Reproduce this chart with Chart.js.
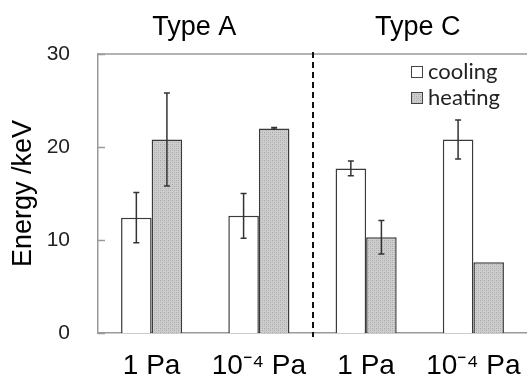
<!DOCTYPE html>
<html>
<head>
<meta charset="utf-8">
<script src="https://cdn.jsdelivr.net/npm/chart.js@4.4.0/dist/chart.umd.min.js"></script>
<style>
    html, body { margin: 0; padding: 0; background: #fff; }
    #wrap { width: 527px; height: 375px; }
</style>
</head>
<body>
<div id="wrap"><canvas id="chart" width="527" height="375"></canvas></div>
<script>
// Chart data
const categories = ['1 Pa', '10\u207B\u2074 Pa', '1 Pa', '10\u207B\u2074 Pa'];
const groupTitles = ['Type A', 'Type C'];
const coolingValues = [12.4, 12.6, 17.7, 20.8];
const coolingErrors = [2.7, 2.4, 0.8, 2.1];
const heatingValues = [20.8, 22.0, 10.3, 7.6];
const heatingErrors = [5.0, 0.1, 1.8, 0];
const yTicks = [0, 10, 20, 30];

// Stippled grey fill for the heating bars
function makeStipple() {
    const c = document.createElement('canvas');
    c.width = 4;
    c.height = 4;
    const g = c.getContext('2d');
    g.fillStyle = '#cdcdcd';
    g.fillRect(0, 0, 4, 4);
    g.fillStyle = '#a9a9a9';
    g.fillRect(0, 0, 1, 1);
    g.fillRect(2, 2, 1, 1);
    g.fillStyle = '#b9b9b9';
    g.fillRect(2, 0, 1, 1);
    g.fillRect(0, 2, 1, 1);
    return g.createPattern(c, 'repeat');
}
const stipple = makeStipple();

const AXIS_GREY = '#9a9a9a';
const SANS = '"Liberation Sans", Arial, sans-serif';

// Draws the frame extras, divider, group titles, legend and error bars
const extrasPlugin = {
    id: 'extras',
    afterDatasetsDraw(chart) {
        const ctx = chart.ctx;
        const area = chart.chartArea;
        const x = chart.scales.x;
        const y = chart.scales.y;
        ctx.save();

        // top frame line
        ctx.strokeStyle = AXIS_GREY;
        ctx.lineWidth = 1.5;
        ctx.beginPath();
        ctx.moveTo(area.left, area.top);
        ctx.lineTo(area.right, area.top);
        ctx.stroke();

        // inward tick marks on y axis
        yTicks.forEach(v => {
            const py = Math.round(y.getPixelForValue(v)) + 0.5;
            ctx.beginPath();
            ctx.moveTo(area.left, py);
            ctx.lineTo(area.left + 7, py);
            ctx.stroke();
        });

        // error bars
        ctx.strokeStyle = '#333';
        ctx.lineWidth = 1.5;
        [[0, coolingValues, coolingErrors], [1, heatingValues, heatingErrors]].forEach(([di, vals, errs]) => {
            const meta = chart.getDatasetMeta(di);
            meta.data.forEach((bar, i) => {
                if (!errs[i]) return;
                const cx = bar.x;
                const top = y.getPixelForValue(vals[i] + errs[i]);
                const bot = y.getPixelForValue(vals[i] - errs[i]);
                ctx.beginPath();
                ctx.moveTo(cx, top);
                ctx.lineTo(cx, bot);
                ctx.moveTo(cx - 3, top);
                ctx.lineTo(cx + 3, top);
                ctx.moveTo(cx - 3, bot);
                ctx.lineTo(cx + 3, bot);
                ctx.stroke();
            });
        });

        // dashed divider between the two types
        const divX = Math.round((x.getPixelForValue(1) + x.getPixelForValue(2)) / 2);
        ctx.strokeStyle = '#111';
        ctx.lineWidth = 2;
        ctx.setLineDash([6, 4]);
        ctx.beginPath();
        ctx.moveTo(divX, area.top - 2);
        ctx.lineTo(divX, area.bottom + 4);
        ctx.stroke();
        ctx.setLineDash([]);

        // group titles
        ctx.fillStyle = '#000';
        ctx.font = '27px ' + SANS;
        ctx.textAlign = 'center';
        ctx.textBaseline = 'alphabetic';
        ctx.fillText(groupTitles[0], (x.getPixelForValue(0) + x.getPixelForValue(1)) / 2 - 11, 35);
        ctx.fillText(groupTitles[1], (x.getPixelForValue(2) + x.getPixelForValue(3)) / 2 - 2, 35);

        // legend inside the plot, top right
        ctx.font = '22px Lato, "Open Sans", sans-serif';
        ctx.textAlign = 'left';
        ctx.textBaseline = 'middle';
        chart.data.datasets.forEach((ds, i) => {
            const ly = area.top + 18 + i * 26;
            ctx.fillStyle = ds.backgroundColor;
            ctx.fillRect(411, ly - 6, 11, 11);
            ctx.strokeStyle = '#444';
            ctx.lineWidth = 1;
            ctx.strokeRect(411.5, ly - 5.5, 11, 11);
            ctx.fillStyle = '#222';
            ctx.fillText(ds.label, 428, ly);
        });

        ctx.restore();
    }
};

new Chart(document.getElementById('chart'), {
    type: 'bar',
    data: {
        labels: categories,
        datasets: [
            {
                label: 'cooling',
                data: coolingValues,
                backgroundColor: '#ffffff',
                borderColor: '#3a3a3a',
                borderWidth: 1.5,
                borderSkipped: 'bottom'
            },
            {
                label: 'heating',
                data: heatingValues,
                backgroundColor: stipple,
                borderColor: '#3a3a3a',
                borderWidth: 1.5,
                borderSkipped: 'bottom'
            }
        ]
    },
    options: {
        responsive: false,
        animation: false,
        devicePixelRatio: 1,
        layout: { padding: { top: 54, right: 0, left: 0, bottom: 0 } },
        datasets: {
            bar: { categoryPercentage: 0.57, barPercentage: 1.0 }
        },
        plugins: {
            legend: { display: false },
            tooltip: { enabled: false }
        },
        scales: {
            x: {
                grid: { display: false, drawTicks: false },
                border: { display: true, color: AXIS_GREY, width: 1.5 },
                ticks: {
                    color: '#000',
                    padding: 16,
                    maxRotation: 0,
                    font: { family: SANS, size: 28 }
                },
                afterFit(scale) {
                    scale.height = 42;
                    scale.paddingLeft = 0;
                    scale.paddingRight = 0;
                }
            },
            y: {
                min: 0,
                max: 30,
                grid: { display: false, drawTicks: false },
                border: { display: true, color: AXIS_GREY, width: 1.5 },
                afterBuildTicks(scale) {
                    scale.ticks = yTicks.map(v => ({ value: v }));
                },
                ticks: {
                    color: '#222',
                    padding: 28,
                    font: { family: SANS, size: 21 }
                },
                title: {
                    display: true,
                    text: 'Energy /keV',
                    color: '#000',
                    padding: { top: 7, bottom: 0 },
                    font: { family: SANS, size: 27 }
                },
                afterFit(scale) { scale.width = 98; }
            }
        }
    },
    plugins: [extrasPlugin]
});
</script>
</body>
</html>
